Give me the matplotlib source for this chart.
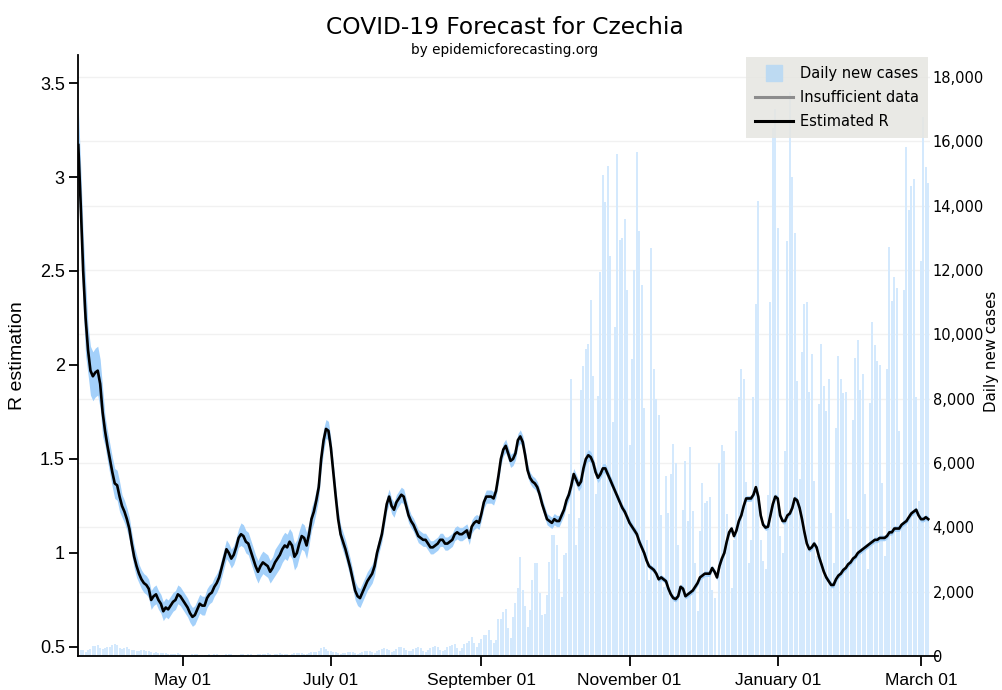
import numpy as np
import pandas as pd
import matplotlib
matplotlib.use('Agg')
import matplotlib.pyplot as plt
import matplotlib.dates as mdates
from matplotlib.lines import Line2D
from matplotlib.ticker import FuncFormatter

# Daily new cases, 2020-03-19 .. 2021-03-04 (rows are Mon..Sun weeks)
start_date = '2020-03-19'
daily_cases = [
    160, 190, 180, 130,
    200, 230, 320, 310, 330, 240, 210,
    250, 290, 280, 340, 360, 350, 240,
    210, 260, 270, 230, 180, 200, 160,
    140, 180, 190, 160, 150, 110, 80,
    110, 90, 90, 100, 80, 60, 50,
    60, 70, 80, 50, 40, 40, 30,
    40, 60, 70, 50, 40, 30, 20,
    30, 50, 40, 60, 50, 40, 30,
    40, 60, 70, 50, 40, 30, 30,
    50, 60, 40, 50, 60, 40, 30,
    50, 70, 60, 50, 80, 50, 30,
    60, 70, 80, 70, 60, 50, 40,
    60, 80, 90, 100, 90, 70, 50,
    90, 110, 120, 130, 170, 260, 280,
    230, 170, 140, 120, 110, 90, 70,
    90, 100, 110, 120, 110, 90, 70,
    100, 120, 140, 150, 160, 130, 100,
    150, 200, 230, 240, 230, 180, 130,
    160, 230, 270, 280, 250, 180, 140,
    170, 230, 260, 290, 240, 170, 120,
    180, 260, 280, 300, 270, 200, 140,
    190, 290, 310, 340, 360, 260, 160,
    240, 370, 390, 460, 600, 390, 270,
    410, 530, 650, 640, 800, 510, 400,
    510, 1160, 1160, 1380, 1450, 860, 560,
    1210, 1640, 2100, 3090, 2050, 1540, 910,
    1430, 2360, 2880, 2900, 1950, 1270, 1310,
    1900, 2930, 3770, 3770, 3460, 2400, 1830,
    3150, 3200, 4400, 8600, 5400, 3460, 4300,
    8280, 9020, 9540, 9700, 11060, 8700, 5030,
    8070, 11950, 14940, 14100, 15220, 12420, 7290,
    10220, 15620, 12940, 13000, 13580, 11380, 6550,
    9220, 12000, 15670, 13210, 11530, 7700, 3620,
    2360, 12680, 8910, 7990, 7490, 4380, 2160,
    5600, 4440, 5660, 6600, 5990, 3440, 2160,
    4550, 6050, 4200, 6490, 4500, 2890, 1390,
    3890, 5380, 4770, 4830, 4940, 2050, 1800,
    0, 5990, 6550, 6380, 4400, 3800, 2100,
    3600, 7000, 8050, 8930, 8600, 5400, 2900,
    3600, 8050, 10930, 14150, 3600, 2940, 2700,
    5000, 11000, 16400, 17000, 13300, 3720, 3200,
    6380, 12900, 17540, 14900, 13150, 8550, 5500,
    9440, 10940, 10990, 8210, 9390, 5440, 3110,
    7830, 9710, 8390, 7610, 8620, 4440, 2890,
    7100, 9330, 8610, 8180, 8210, 4270, 2950,
    7340, 9260, 9820, 8270, 8770, 5050, 2720,
    7880, 10380, 9670, 9170, 9050, 5380, 3110,
    8930, 12720, 11050, 11770, 11440, 6990, 4000,
    11380, 15820, 13880, 14600, 14820, 8050, 4830,
    12270, 16760, 15210, 14700,
]
week_lengths = [4] + [7] * 49 + [4]

# Estimated R, same days
r_estimate = [
    3.17, 2.85, 2.5, 2.25, 2.08, 1.97, 1.94, 1.96, 1.97, 1.9,
    1.75, 1.65, 1.57, 1.5, 1.43, 1.37, 1.36, 1.3, 1.25, 1.22,
    1.18, 1.13, 1.05, 0.98, 0.93, 0.89, 0.86, 0.84, 0.83, 0.81,
    0.75, 0.77, 0.78, 0.75, 0.73, 0.69, 0.71, 0.70, 0.72, 0.74,
    0.75, 0.78, 0.77, 0.75, 0.73, 0.71, 0.68, 0.66, 0.67, 0.70,
    0.73, 0.72, 0.72, 0.76, 0.78, 0.79, 0.82, 0.84, 0.87, 0.92,
    0.97, 1.02, 1.00, 0.97, 0.99, 1.03, 1.08, 1.10, 1.09, 1.06,
    1.05, 1.01, 0.97, 0.93, 0.90, 0.93, 0.95, 0.94, 0.93, 0.90,
    0.92, 0.95, 0.97, 0.99, 1.02, 1.04, 1.03, 1.06, 1.04, 0.98,
    1.00, 1.05, 1.09, 1.08, 1.04, 1.10, 1.18, 1.22, 1.28, 1.35,
    1.50, 1.60, 1.66, 1.65, 1.56, 1.43, 1.30, 1.18, 1.10, 1.06,
    1.02, 0.97, 0.92, 0.86, 0.80, 0.77, 0.76, 0.79, 0.82, 0.85,
    0.87, 0.89, 0.93, 1.00, 1.05, 1.10, 1.18, 1.26, 1.30, 1.25,
    1.23, 1.27, 1.29, 1.31, 1.30, 1.25, 1.20, 1.17, 1.15, 1.12,
    1.09, 1.08, 1.07, 1.07, 1.05, 1.03, 1.03, 1.04, 1.05, 1.07,
    1.07, 1.05, 1.05, 1.06, 1.07, 1.10, 1.11, 1.10, 1.10, 1.11,
    1.12, 1.08, 1.14, 1.16, 1.17, 1.16, 1.21, 1.27, 1.30,
    1.30, 1.30, 1.29, 1.33, 1.41, 1.50, 1.55, 1.57, 1.53, 1.49,
    1.50, 1.53, 1.60, 1.62, 1.59, 1.52, 1.44, 1.40, 1.38, 1.37,
    1.35, 1.31, 1.26, 1.22, 1.18, 1.17, 1.16, 1.18, 1.17, 1.17,
    1.20, 1.23, 1.28, 1.31, 1.36, 1.42, 1.39, 1.36, 1.38, 1.45,
    1.50, 1.52, 1.51, 1.48, 1.43, 1.40, 1.42, 1.45, 1.45, 1.42,
    1.39, 1.36, 1.33, 1.30, 1.27, 1.24, 1.22, 1.19, 1.16, 1.14,
    1.12, 1.10, 1.06, 1.03, 1.00, 0.96, 0.93, 0.92, 0.91, 0.89,
    0.86, 0.87, 0.86, 0.85, 0.81, 0.78, 0.76, 0.755, 0.77, 0.82,
    0.81, 0.77, 0.78, 0.79, 0.80, 0.82, 0.84, 0.87, 0.88, 0.89,
    0.89, 0.89, 0.92, 0.90, 0.87, 0.93, 0.97, 1.00, 1.06, 1.11,
    1.13, 1.09, 1.12, 1.17, 1.20, 1.25, 1.29, 1.29, 1.29, 1.31,
    1.35, 1.30, 1.20, 1.15, 1.135, 1.14, 1.20, 1.26, 1.30, 1.29,
    1.20, 1.17, 1.17, 1.20, 1.21, 1.24, 1.29, 1.28, 1.24, 1.18,
    1.11, 1.05, 1.02, 1.03, 1.05, 1.03, 0.98, 0.94, 0.90, 0.87,
    0.85, 0.83, 0.83, 0.86, 0.88, 0.89, 0.91, 0.92, 0.94, 0.95,
    0.97, 0.98, 1.00, 1.01, 1.02, 1.03, 1.04, 1.05, 1.06, 1.07,
    1.07, 1.08, 1.08, 1.08, 1.09, 1.11, 1.11, 1.13, 1.13, 1.13,
    1.15, 1.16, 1.17, 1.19, 1.21, 1.22, 1.23, 1.20, 1.18, 1.18,
    1.19, 1.18,
]

# half width of the R uncertainty band, one value per week row
r_band_weekly = [
    0.2, 0.13, 0.08, 0.06, 0.05, 0.05, 0.05, 0.05, 0.05, 0.05,
    0.06, 0.06, 0.07, 0.07, 0.06, 0.05, 0.05, 0.05, 0.04, 0.04,
    0.035, 0.035, 0.035, 0.035, 0.035, 0.035, 0.035, 0.03, 0.03, 0.03,
    0.03, 0.025, 0.02, 0.02, 0.015, 0.015, 0.015, 0.015, 0.015, 0.015,
    0.015, 0.015, 0.015, 0.015, 0.015, 0.015, 0.015, 0.015, 0.015, 0.015,
    0.015,
]

r_ticks = [0.5, 1, 1.5, 2, 2.5, 3, 3.5]
case_ticks = list(range(0, 18001, 2000))

dates = pd.date_range(start_date, periods=len(daily_cases), freq='D')
r = np.array(r_estimate)
half = np.repeat(r_band_weekly, week_lengths)

W, H = 1003, 690
fig = plt.figure(figsize=(W / 100, H / 100), dpi=100)
ax_c = fig.add_axes([78 / W, 1 - 656 / H, (930 - 78) / W, (656 - 55) / H])
ax_r = ax_c.twinx()

# cases bars (right axis)
ax_c.bar(dates, daily_cases, width=0.85, color='#d4e9fd', linewidth=0, zorder=2)
ax_c.set_ylim(0, 18684)
ax_c.set_yticks(case_ticks)
ax_c.yaxis.set_major_formatter(FuncFormatter(lambda v, p: f'{v:,.0f}'))
ax_c.yaxis.tick_right()
ax_c.grid(axis='y', color='#f1f1f1', lw=1, zorder=0)
ax_c.set_axisbelow(True)

# R estimate (left axis)
ax_r.fill_between(dates, r - half, r + half, color='#a3d0fa', lw=0)
ax_r.plot(dates, r, color='black', lw=1.9, solid_joinstyle='round')
ax_r.set_ylim(0.452, 3.649)
ax_r.set_yticks(r_ticks)
ax_r.yaxis.set_major_formatter(FuncFormatter(lambda v, p: f'{v:g}'))
ax_r.yaxis.tick_left()

x0 = dates[0] - pd.Timedelta(hours=3)
x1 = dates[-1] + pd.Timedelta(hours=17)
ax_c.set_xlim(x0, x1)
ax_c.xaxis.set_major_locator(mdates.MonthLocator(bymonth=[1, 3, 5, 7, 9, 11]))
ax_c.xaxis.set_major_formatter(mdates.DateFormatter('%B %d'))

for ax in (ax_c, ax_r):
    for s in ('top', 'right', 'left'):
        ax.spines[s].set_visible(False)
ax_r.spines['left'].set_visible(True)
ax_r.spines['left'].set_linewidth(1.3)
ax_r.spines['bottom'].set_visible(False)
ax_c.spines['bottom'].set_linewidth(1.3)
ax_c.spines['bottom'].set_bounds(mdates.date2num(x0),
                                 mdates.date2num(x1 + pd.Timedelta(days=3.3)))

tick_font = 'Liberation Sans'
ax_c.tick_params(axis='x', length=7, width=1.3, pad=5, labelsize=12.5)
ax_r.tick_params(axis='y', length=6.5, width=1.3, pad=3, labelsize=13)
ax_c.tick_params(axis='y', length=0, pad=2, labelsize=10.5)
for lab in ax_c.get_xticklabels() + ax_r.get_yticklabels():
    lab.set_family(tick_font)
for lab in ax_c.get_yticklabels():
    lab.set_family('DejaVu Sans')

handles = [
    Line2D([], [], marker='s', markersize=11, color='#bddaf2', linestyle='none'),
    Line2D([], [], color='#8c8c8c', lw=2.2),
    Line2D([], [], color='black', lw=2.2),
]
labels = ['Daily new cases', 'Insufficient data', 'Estimated R']
leg = ax_r.legend(handles, labels, loc='upper right', bbox_to_anchor=(1.0, 1.0),
                  facecolor='#e6e6e1', edgecolor='none', framealpha=0.85,
                  fancybox=False, prop={'family': 'DejaVu Sans', 'size': 10.5},
                  handlelength=2.6, handletextpad=0.5, borderpad=0.6,
                  labelspacing=0.62, borderaxespad=0.15)

fig.text(0.503, 1 - 27 / H, 'COVID-19 Forecast for Czechia', ha='center', va='center',
         fontsize=16.8, family='DejaVu Sans')
fig.text(0.503, 1 - 50 / H, 'by epidemicforecasting.org', ha='center', va='center',
         fontsize=9.8, family='DejaVu Sans')
fig.text(18 / W, 1 - 356 / H, 'R estimation', rotation=90, ha='center', va='center',
         fontsize=14, family=tick_font)
fig.text(992 / W, 1 - 351 / H, 'Daily new cases', rotation=90, ha='center', va='center',
         fontsize=10.8, family='DejaVu Sans')

fig.savefig('out.png', dpi=100)
